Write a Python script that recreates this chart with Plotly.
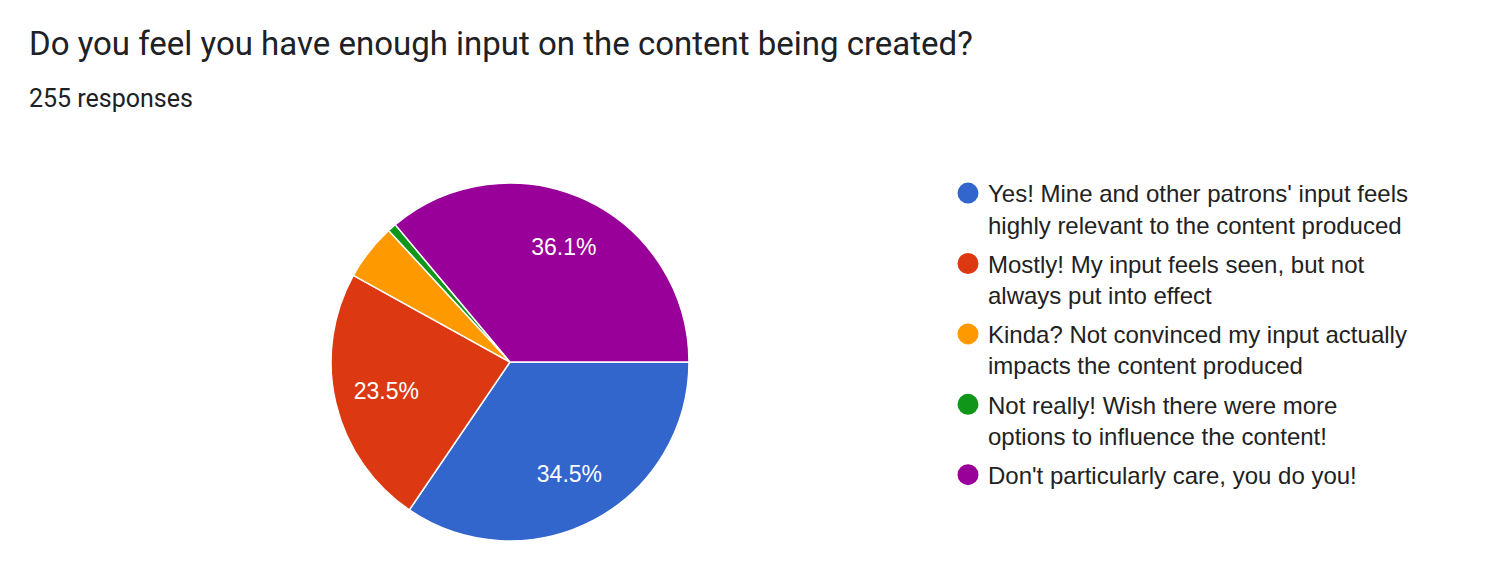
import plotly.graph_objects as go

labels = [
    "Yes! Mine and other patrons' input feels<br>highly relevant to the content produced",
    "Mostly! My input feels seen, but not<br>always put into effect",
    "Kinda? Not convinced my input actually<br>impacts the content produced",
    "Not really! Wish there were more<br>options to influence the content!",
    "Don't particularly care, you do you!",
]
values = [88, 60, 13, 2, 92]
colors = ["#3366cc", "#dc3912", "#ff9900", "#109618", "#990099"]
show_label = [True, True, False, False, True]

title_text = "Do you feel you have enough input on the content being created?"
subtitle_text = "255 responses"

W, H = 1492, 581
OFF = 8  # default page body margin

pie_domain = dict(x=[(331 - OFF) / W, (689 - OFF) / W],
                  y=[(H - (541 - OFF)) / H, (H - (183 - OFF)) / H])

fig = go.Figure()
# visible pie slices
fig.add_trace(go.Pie(
    labels=labels,
    values=values,
    sort=False,
    direction="clockwise",
    rotation=90,
    marker=dict(colors=colors, line=dict(color="white", width=1.5)),
    textinfo="none",
    showlegend=False,
    hoverinfo="label+percent",
    domain=pie_domain,
))
# transparent ring carrying the percentage labels further out along each slice
fig.add_trace(go.Pie(
    labels=labels,
    values=values,
    sort=False,
    direction="clockwise",
    rotation=90,
    hole=0.42,
    marker=dict(colors=["rgba(0,0,0,0)"] * len(values), line=dict(width=0)),
    texttemplate=["%{percent:.1%}" if s else "" for s in show_label],
    textposition="inside",
    insidetextorientation="horizontal",
    textfont=dict(family="Liberation Sans, Arial", size=23, color="white"),
    showlegend=False,
    hoverinfo="skip",
    domain=pie_domain,
))

for lab, col in zip(labels, colors):
    fig.add_trace(go.Scatter(
        x=[None], y=[None], mode="markers", name=lab,
        marker=dict(color=col, size=16, symbol="circle", line=dict(color=col, width=6)),
        legendgroup=lab, showlegend=True,
    ))

fig.update_layout(
    width=W, height=H,
    paper_bgcolor="white", plot_bgcolor="white",
    margin=dict(l=0, r=0, t=0, b=0),
    xaxis=dict(visible=False), yaxis=dict(visible=False),
    legend=dict(x=(948 - OFF) / W, xanchor="left", y=1 - (195 - OFF - 24) / H, yanchor="top",
                font=dict(family="Liberation Sans, Arial", size=24, color="#222222"),
                tracegroupgap=5, itemsizing="trace", valign="top", bgcolor="rgba(0,0,0,0)"),
    annotations=[
        dict(text=title_text, x=(27 - OFF) / W, xanchor="left", y=1 - (44 - OFF) / H, yanchor="middle",
             xref="paper", yref="paper", showarrow=False,
             font=dict(family="Roboto", size=33, color="#202124")),
        dict(text=subtitle_text, x=(27 - OFF) / W, xanchor="left", y=1 - (99 - OFF) / H, yanchor="middle",
             xref="paper", yref="paper", showarrow=False,
             font=dict(family="Roboto", size=25, color="#202124")),
    ],
)

fig.write_html("out.html")
